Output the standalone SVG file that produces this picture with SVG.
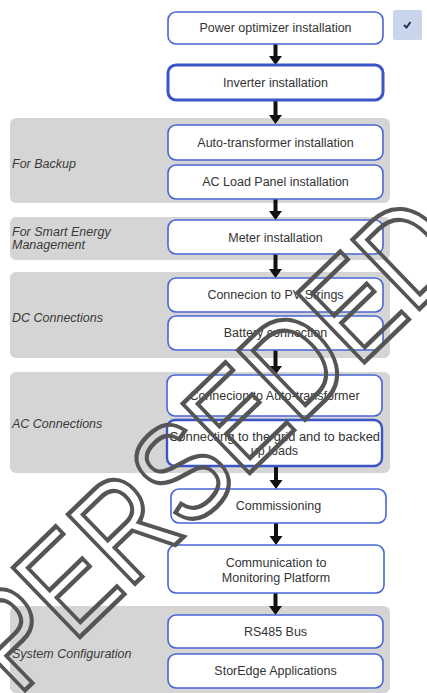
<svg xmlns="http://www.w3.org/2000/svg" width="427" height="693" viewBox="0 0 427 693">
<defs>
<style>
.grp{fill:#d5d5d5;}
.node rect{fill:#ffffff;stroke:#4866d6;stroke-width:1.6;}
.node.bold rect{stroke:#3a55c8;stroke-width:3;}
.node text{font-family:"Liberation Sans",Arial,sans-serif;font-size:12.5px;fill:#333333;text-anchor:middle;}
.lbl{font-family:"Liberation Sans",Arial,sans-serif;font-size:12.5px;font-style:italic;fill:#3a3a3a;}
.conn path{fill:#111111;}
.wm{font-family:"Liberation Sans",Arial,sans-serif;font-size:140px;fill:none;stroke:#555555;stroke-width:4.5;text-anchor:middle;}
</style>
</defs>
<rect width="427" height="693" fill="#ffffff"/>

<g id="groups">
<rect class="grp" x="10" y="118" width="380" height="85" rx="6"/>
<rect class="grp" x="10" y="217" width="380" height="43" rx="6"/>
<rect class="grp" x="10" y="272" width="380" height="86" rx="6"/>
<rect class="grp" x="10" y="372" width="380" height="101" rx="6"/>
<rect class="grp" x="10" y="606" width="380" height="87" rx="6"/>
<text class="lbl" x="12" y="168">For Backup</text>
<text class="lbl" x="12" y="236">For Smart Energy</text>
<text class="lbl" x="12" y="249">Management</text>
<text class="lbl" x="12" y="322">DC Connections</text>
<text class="lbl" x="12" y="428">AC Connections</text>
<text class="lbl" x="12" y="658">System Configuration</text>
</g>

<g id="connectors" class="conn">
<path d="M273.5,44 h4 v12 h4.5 l-6.5,9 l-6.5,-9 h4.5 z"/>
<path d="M273.5,100 h4 v15 h4.5 l-6.5,9 l-6.5,-9 h4.5 z"/>
<path d="M273.5,199 h4 v12 h4.5 l-6.5,9 l-6.5,-9 h4.5 z"/>
<path d="M273.5,254 h4 v15 h4.5 l-6.5,9 l-6.5,-9 h4.5 z"/>
<path d="M273.5,350 h4 v16 h4.5 l-6.5,9 l-6.5,-9 h4.5 z"/>
<path d="M274,466 h4 v14 h4.5 l-6.5,9 l-6.5,-9 h4.5 z"/>
<path d="M274,523 h4 v13 h4.5 l-6.5,9 l-6.5,-9 h4.5 z"/>
<path d="M273.5,593 h4 v13 h4.5 l-6.5,9 l-6.5,-9 h4.5 z"/>
</g>

<g id="check">
<rect x="393" y="10" width="29" height="30" rx="2" fill="#c9d5ea"/>
<path d="M404,25 L406.5,27.5 L410.5,22" fill="none" stroke="#1c2a55" stroke-width="1.8"/>
</g>

<g id="n1" class="node"><rect x="168" y="12" width="215" height="32" rx="8"/><text x="275.5" y="32">Power optimizer installation</text></g>
<g id="n2" class="node bold"><rect x="168" y="65" width="215" height="35" rx="8"/><text x="275.5" y="87">Inverter installation</text></g>
<g id="n3" class="node"><rect x="168" y="125" width="215" height="35" rx="8"/><text x="275.5" y="147">Auto-transformer installation</text></g>
<g id="n4" class="node"><rect x="168" y="165" width="215" height="34" rx="8"/><text x="275.5" y="186">AC Load Panel installation</text></g>
<g id="n5" class="node"><rect x="168" y="220" width="215" height="34" rx="8"/><text x="275.5" y="242">Meter installation</text></g>
<g id="n6" class="node"><rect x="168" y="278" width="215" height="34" rx="8"/><text x="275.5" y="299">Connecion to PV Strings</text></g>
<g id="n7" class="node"><rect x="168" y="316" width="215" height="34" rx="8"/><text x="275.5" y="337">Battery connection</text></g>
<g id="n8" class="node"><rect x="167" y="375" width="215" height="41" rx="8"/><text x="274.5" y="400">Connecion to Auto-transformer</text></g>
<g id="n9" class="node"><rect x="167" y="420" width="215" height="46" rx="8" style="stroke:#3a55c8;stroke-width:2.4"/><text x="274.5" y="441" textLength="211" lengthAdjust="spacingAndGlyphs">Connecting to the grid and to backed</text><text x="274.5" y="455">up loads</text></g>
<g id="n10" class="node"><rect x="171" y="489" width="215" height="34" rx="8"/><text x="278.5" y="510">Commissioning</text></g>
<g id="n11" class="node"><rect x="168" y="545" width="216" height="48" rx="8"/><text x="276" y="567">Communication to</text><text x="276" y="582">Monitoring Platform</text></g>
<g id="n12" class="node"><rect x="168" y="615" width="215" height="33" rx="8"/><text x="275.5" y="636">RS485 Bus</text></g>
<g id="n13" class="node"><rect x="168" y="654" width="215" height="34" rx="8"/><text x="275.5" y="675">StorEdge Applications</text></g>

<g id="watermark">
<text class="wm" transform="translate(153,497) rotate(-44) scale(0.82,1)" x="0" y="50">SUPERSEDED</text>
</g>
</svg>
